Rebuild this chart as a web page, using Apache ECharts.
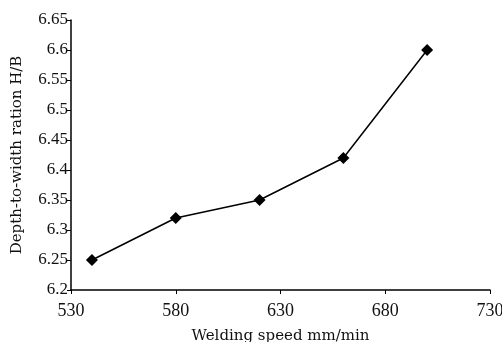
<!DOCTYPE html>
<html>
<head>
<meta charset="utf-8">
<script src="https://cdn.jsdelivr.net/npm/echarts@6/dist/echarts.min.js"></script>
<style>
html, body { margin: 0; padding: 0; background: #fff; }
#main { width: 502px; height: 342px; }
</style>
</head>
<body>
<div id="main"></div>
<script>
// 焊接速度 vs 深宽比
var speedArr = [540, 580, 620, 660, 700];
var ratioArr = [6.25, 6.32, 6.35, 6.42, 6.6];
var xTicks = [530, 580, 630, 680, 730];
var yTicks = [6.2, 6.25, 6.3, 6.35, 6.4, 6.45, 6.5, 6.55, 6.6, 6.65];

var chart = echarts.init(document.getElementById('main'));
var font = '"Liberation Serif", "DejaVu Serif", serif';
var nameFont = '"DejaVu Serif", "Liberation Serif", serif';

var points = [];
for (var i = 0; i < speedArr.length; i++) {
    points.push([speedArr[i], ratioArr[i]]);
}

chart.setOption({
    backgroundColor: '#fff',
    animation: false,
    grid: {
        left: 71,
        right: 12,
        top: 20,
        bottom: 52,
        containLabel: false,
        outerBoundsMode: 'none'
    },
    xAxis: {
        type: 'value',
        min: xTicks[0],
        max: xTicks[xTicks.length - 1],
        interval: 50,
        name: 'Welding speed mm/min',
        nameLocation: 'middle',
        nameGap: 39,
        nameTextStyle: { color: '#111', fontFamily: nameFont, fontSize: 15 },
        axisLine: { lineStyle: { color: '#000', width: 1.5 } },
        axisTick: { length: 4, lineStyle: { color: '#000' } },
        axisLabel: { color: '#111', fontFamily: font, fontSize: 18, margin: 12 },
        splitLine: { show: false }
    },
    yAxis: {
        type: 'value',
        min: yTicks[0],
        max: yTicks[yTicks.length - 1],
        interval: 0.05,
        name: 'Depth-to-width ration H/B',
        nameLocation: 'middle',
        nameGap: 46,
        nameTextStyle: { color: '#111', fontFamily: nameFont, fontSize: 15 },
        axisLine: { show: true, lineStyle: { color: '#000', width: 1.5 } },
        axisTick: { show: true, length: 4, lineStyle: { color: '#000' } },
        axisLabel: { color: '#111', fontFamily: font, fontSize: 17, margin: 3 },
        splitLine: { show: false }
    },
    series: [
        {
            type: 'line',
            data: points,
            symbol: 'diamond',
            symbolSize: 12,
            lineStyle: { color: '#000', width: 1.5 },
            itemStyle: { color: '#000' }
        }
    ]
});
</script>
</body>
</html>
